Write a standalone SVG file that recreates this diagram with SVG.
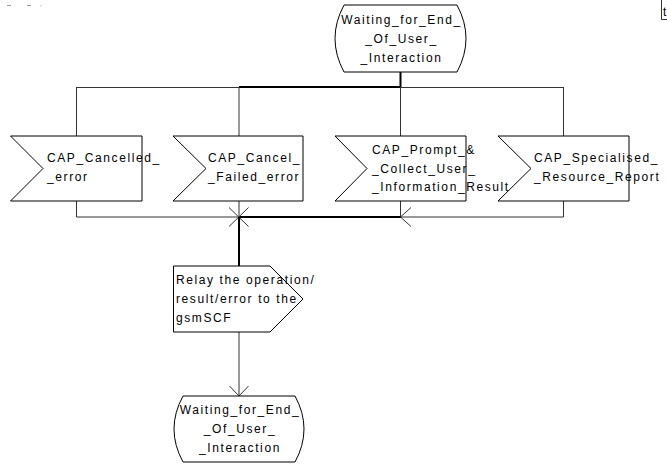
<svg xmlns="http://www.w3.org/2000/svg" width="667" height="465" viewBox="0 0 667 465">
<style>
.shape{fill:#fff;stroke:#000;stroke-width:1}
.txt{font-family:"Liberation Sans",Arial,sans-serif;font-size:12px;letter-spacing:1.6px;fill:#000}
.mid{text-anchor:middle}
.thin{fill:none;stroke:#333;stroke-width:1}
.thick{fill:none;stroke:#000;stroke-width:2}
</style>
<rect width="667" height="465" fill="#fff"/>
<g id="marks">
<line x1="7" y1="5.5" x2="11" y2="5.5" stroke="#999" stroke-width="1"/>
<line x1="27" y1="5.5" x2="31" y2="5.5" stroke="#999" stroke-width="1"/>
<line x1="41" y1="5" x2="41" y2="6.5" stroke="#bbb" stroke-width="1"/>
<polyline points="661.5,0 661.5,19.5 667,19.5" fill="none" stroke="#333" stroke-width="1"/>
<text class="txt" x="663" y="16">t</text>
</g>
<g id="connectors">
<line class="thick" x1="400.5" y1="72" x2="400.5" y2="87"/>
<line class="thin" x1="76.5" y1="87.5" x2="564" y2="87.5"/>
<line class="thick" x1="239" y1="87" x2="401" y2="87"/>
<line class="thin" x1="76.5" y1="87" x2="76.5" y2="136"/>
<line class="thin" x1="239" y1="87" x2="239" y2="136"/>
<line class="thin" x1="400.5" y1="87" x2="400.5" y2="136"/>
<line class="thin" x1="563.5" y1="87" x2="563.5" y2="136"/>
<line class="thin" x1="76.5" y1="201" x2="76.5" y2="217"/>
<line class="thin" x1="239" y1="201" x2="239" y2="217"/>
<line class="thin" x1="400.5" y1="201" x2="400.5" y2="217"/>
<line class="thin" x1="563.5" y1="201" x2="563.5" y2="217"/>
<line class="thin" x1="76.5" y1="217" x2="239" y2="217"/>
<line class="thin" x1="400.5" y1="217" x2="563.5" y2="217"/>
<line class="thick" x1="239" y1="217" x2="401" y2="217"/>
<polyline class="thin" points="411,207.5 400.5,217 411,226.5"/>
<line class="thin" x1="229" y1="207.5" x2="248.5" y2="226.5"/>
<line class="thin" x1="229" y1="226.5" x2="248.5" y2="207.5"/>
<line class="thick" x1="239" y1="217" x2="239" y2="266"/>
<line class="thin" x1="239" y1="332" x2="239" y2="396"/>
<polyline class="thin" points="229.5,386 239,396 248.5,386"/>
</g>
<g id="state_top">
<path class="shape" d="M344,5 L457,5 Q475,38.5 457,72 L344,72 Q326,38.5 344,5 Z"/>
<text class="txt mid" x="401.5" y="24">Waiting_for_End_</text>
<text class="txt mid" x="401.5" y="43">_Of_User_</text>
<text class="txt mid" x="401.5" y="62">_Interaction</text>
</g>
<g id="in_cancelled">
<polygon class="shape" points="10.5,136 142,136 142,201 10.5,201 43,168.5"/>
<text class="txt" x="47" y="162">CAP_Cancelled_</text>
<text class="txt" x="47" y="181">_error</text>
</g>
<g id="in_cancel_failed">
<polygon class="shape" points="173,136 303,136 303,201 173,201 206,168.5"/>
<text class="txt" x="208" y="162">CAP_Cancel_</text>
<text class="txt" x="208" y="181">_Failed_error</text>
</g>
<g id="in_prompt">
<polygon class="shape" points="335,136 466,136 466,201 335,201 367,168.5"/>
<text class="txt" x="372" y="154">CAP_Prompt_&amp;</text>
<text class="txt" x="372" y="173">_Collect_User_</text>
<text class="txt" x="372" y="191">_Information_Result</text>
</g>
<g id="in_specialised">
<polygon class="shape" points="498,136 629,136 629,201 498,201 531,168.5"/>
<text class="txt" x="534" y="162">CAP_Specialised_</text>
<text class="txt" x="534" y="181">_Resource_Report</text>
</g>
<g id="out_relay">
<polygon class="shape" points="173.5,266 270,266 303,299 270,332 173.5,332"/>
<text class="txt" x="176" y="284">Relay the operation/</text>
<text class="txt" x="176" y="303">result/error to the</text>
<text class="txt" x="176" y="322">gsmSCF</text>
</g>
<g id="state_bottom">
<path class="shape" d="M183,396 L295,396 Q313,429 295,462 L183,462 Q165,429 183,396 Z"/>
<text class="txt mid" x="240" y="414">Waiting_for_End_</text>
<text class="txt mid" x="240" y="433">_Of_User_</text>
<text class="txt mid" x="240" y="452">_Interaction</text>
</g>
</svg>
